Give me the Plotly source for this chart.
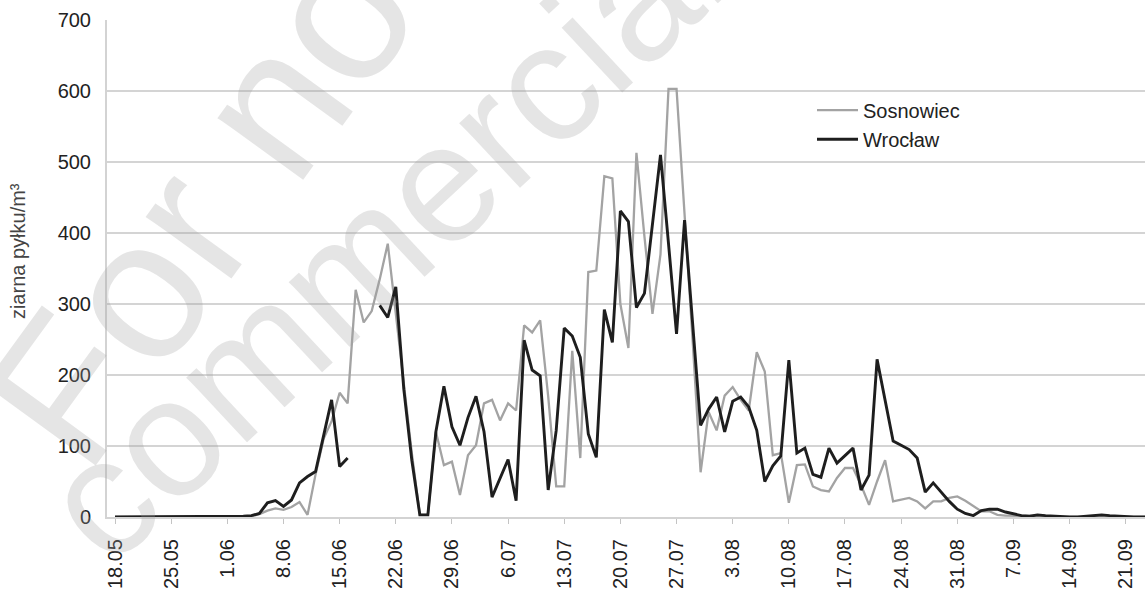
import pandas as pd
import plotly.graph_objects as go

# Daily pollen counts (grains per m3), first day 18.05
start_day = "2013-05-18"
last_label_day = "2013-09-21"

sosnowiec = [
    0, 0, 0, 0, 0, 0, 0, 0, 0, 0,
    0, 0, 0, 0, 0, 0, 0, 1, 4, 9,
    12, 10, 14, 21, 3, 60, 110, 135, 175, 160,
    320, 274, 290, 335, 385, 285, 181, 90, 3, 3,
    120, 73, 78, 31, 87, 101, 160, 165, 136, 160,
    150, 270, 260, 277, 170, 43, 43, 234, 83, 345,
    347, 480, 477, 300, 238, 513, 395, 286, 370, 603,
    603, 430, 250, 63, 148, 122, 171, 183, 165, 150,
    232, 205, 87, 90, 20, 73, 74, 43, 38, 36,
    55, 69, 69, 45, 17, 50, 80, 22, 24, 27,
    22, 12, 22, 22, 27, 29, 23, 15, 8, 8,
    3, 2, 2, 1, 1, 2, 1, 1, 0, 0,
    0, 0, 1, 1, 0, 0, 0, 0, 0, 0,
]

wroclaw = [
    0, 0, 0, 0, 0, 0, 0, 0, 0, 0,
    0, 0, 0, 0, 0, 0, 1, 2, 5, 20,
    23, 15, 24, 48, 57, 64, 115, 165, 71, 83,
    None, None, None, 298, 281, 324, 180, 80, 3, 3,
    120, 184, 127, 101, 140, 170, 120, 28, 55, 81,
    23, 249, 207, 199, 38, 122, 266, 255, 225, 117,
    84, 292, 246, 431, 416, 295, 315, 410, 510, 385,
    258, 418, 275, 129, 152, 169, 120, 163, 169, 155,
    122, 50, 72, 86, 221, 90, 97, 60, 56, 97,
    76, 87, 97, 38, 59, 222, 165, 107, 101, 95,
    83, 35, 48, 35, 22, 11, 5, 2, 9, 11,
    11, 7, 4, 2, 1, 3, 2, 1, 1, 0,
    0, 1, 2, 3, 2, 1, 0, 0, 0, 0,
]

series_names = ["Sosnowiec", "Wrocław"]
y_title = "ziarna pyłku/m³"
watermark_lines = ["For non", "commercial use"]

assert len(sosnowiec) == len(wroclaw)
days = pd.date_range(start_day, periods=len(wroclaw), freq="D")
week_ticks = pd.date_range(start_day, last_label_day, freq="7D")

# Page geometry (pixels)
W, H = 1145, 589
ML, MR, MT, MB = 107, 0, 20, 70
plot_w, plot_h = W - ML - MR, H - MT - MB


def px_to_paper(px, py):
    return (px - ML) / plot_w, (H - MB - py) / plot_h


FONT = "Liberation Sans, Arial, sans-serif"
t0 = pd.Timestamp(start_day)
x_range = [t0 - pd.Timedelta(hours=24), t0 + pd.Timedelta(hours=128.4 * 24)]

fig = go.Figure()
fig.add_trace(go.Scatter(
    x=days, y=sosnowiec, name=series_names[0], mode="lines",
    line=dict(color="#a3a3a3", width=2.3), connectgaps=False,
))
fig.add_trace(go.Scatter(
    x=days, y=wroclaw, name=series_names[1], mode="lines",
    line=dict(color="#1e1e1e", width=2.9), connectgaps=False,
))

annotations = []
# axis title
tx, ty = px_to_paper(18, 252)
annotations.append(dict(
    text=y_title, x=tx, y=ty, xref="paper", yref="paper", showarrow=False,
    textangle=-90, font=dict(family=FONT, size=20, color="#444444"),
    xanchor="center", yanchor="middle",
))
# diagonal watermark: (centre px, size, angle)
watermark_style = [((232, 160), 200, -54), ((499, 128), 168, -43)]
for line_text, ((cx, cy), size, angle) in zip(watermark_lines, watermark_style):
    wx, wy = px_to_paper(cx, cy)
    annotations.append(dict(
        text=line_text, x=wx, y=wy, xref="paper", yref="paper", showarrow=False,
        textangle=angle, font=dict(family=FONT, size=size, color="rgba(160,160,160,0.27)"),
        xanchor="center", yanchor="middle",
    ))

lx, ly = px_to_paper(812, 91)
fig.update_layout(
    width=W, height=H,
    margin=dict(l=ML, r=MR, t=MT, b=MB, pad=0),
    paper_bgcolor="white", plot_bgcolor="white",
    font=dict(family=FONT, size=19, color="#222222"),
    showlegend=True,
    legend=dict(
        x=lx, y=ly, xanchor="left", yanchor="top",
        bgcolor="rgba(0,0,0,0)", font=dict(family=FONT, size=20, color="#222222"),
        tracegroupgap=0, itemwidth=41,
    ),
    annotations=annotations,
    xaxis=dict(
        type="date", range=x_range, tickvals=week_ticks, tickformat="%-d.%m",
        tickangle=-90, ticks="outside", ticklen=5, tickcolor="#c4c4c4", tickwidth=1,
        ticklabelstandoff=7, showgrid=False, showline=True, linecolor="#d3d3d3",
        linewidth=2, zeroline=False, tickfont=dict(family=FONT, size=20, color="#222222"),
    ),
    yaxis=dict(
        range=[0, 700], dtick=100, showgrid=True, gridcolor="#d4d4d4", gridwidth=2,
        showline=True, linecolor="#d3d3d3", linewidth=2, zeroline=False,
        ticks="", ticklabelstandoff=10,
        tickfont=dict(family=FONT, size=20, color="#222222"),
    ),
)

fig.write_html("out.html")
